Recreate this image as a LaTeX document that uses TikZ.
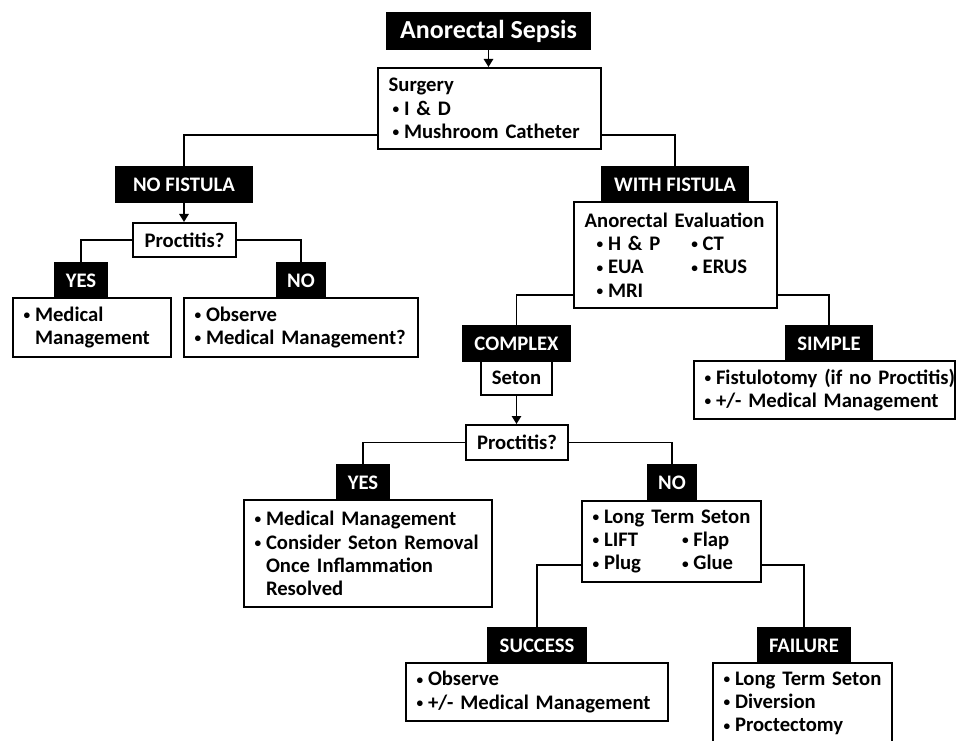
\documentclass[tikz,border=0pt]{standalone}
\usepackage{fontspec}
\setmainfont{Carlito}
\usetikzlibrary{arrows.meta,calc}
\newcommand{\myb}{\makebox[8.5pt][l]{\raisebox{1.3pt}{\fontsize{10}{10}\selectfont •}}}
\newcommand{\myh}{\hspace*{8.5pt}}
\begin{document}
\begin{tikzpicture}[x=0.75pt,y=-0.75pt,
 every node/.style={font=\fontsize{15.5}{17.5}\selectfont\bfseries, inner sep=0pt},
 wh/.style 2 args={minimum width=#1*0.75pt, minimum height=#2*0.75pt},
 lab/.style={fill=black,text=white,draw=black,line width=1pt},
 qbox/.style={draw=black,fill=white,line width=1.5pt},
 cbox/.style={draw=black,fill=white,line width=1.5pt,align=left,inner xsep=8pt},
 conn/.style={line width=1.3pt},
 arr/.style={line width=1.3pt,-{Triangle[width=7pt,length=6pt]}}
]
\clip (0,0) rectangle (956,741);
\fill[white] (0,0) rectangle (956,741);

% top
\node[lab, wh={203}{36}, font=\fontsize{19.5}{21}\selectfont\bfseries] (title) at (488.5,31) {Anorectal Sepsis};
\node[cbox, wh={223}{81}, text width=151.25pt] (surgery) at (489.5,108.5)
 {\mbox{Surgery}\\\mbox{\hspace*{3pt}\myb I \& D}\\\mbox{\hspace*{3pt}\myb Mushroom Catheter}};

% no fistula branch
\node[lab, wh={136}{35}] (nofist) at (184,184.5) {NO FISTULA};
\node[qbox, wh={103}{34}] (proct1) at (184.5,240) {Proctitis?};
\node[cbox, wh={158}{59}, text width=102.5pt] (mm1) at (92,327.5)
 {\mbox{\myb Medical}\\\mbox{\myh Management}};
\node[cbox, wh={234}{59}, text width=159.5pt] (obs1) at (301,327.5)
 {\mbox{\myb Observe}\\\mbox{\myb Medical Management?}};
\node[lab, wh={53}{35}] (yes1) at (81,280.5) {YES};
\node[lab, wh={49}{35}] (no1) at (301,280.5) {NO};

% with fistula branch
\node[cbox, wh={203}{106}, text width=136.25pt] (eval) at (675.5,255)
 {\mbox{Anorectal Evaluation}\\
  \mbox{\hspace*{9pt}\makebox[71pt][l]{\myb H \& P}\myb CT}\\
  \mbox{\hspace*{9pt}\makebox[71pt][l]{\myb EUA}\myb ERUS}\\
  \mbox{\hspace*{9pt}\myb MRI}};
\node[lab, wh={146}{35}] (withfist) at (675,184.5) {WITH FISTULA};

\node[cbox, wh={261}{58}, text width=179.75pt] (simplebox) at (824.5,390)
 {\mbox{\myb Fistulotomy (if no Proctitis)}\\\mbox{\myb +/- Medical Management}};
\node[lab, wh={86}{35}] (simple) at (829,343.5) {SIMPLE};

\node[qbox, wh={71}{34}] (seton) at (516.5,378) {Seton};
\node[lab, wh={107}{35}] (complex) at (516.5,343.5) {COMPLEX};

\node[qbox, wh={102}{35}] (proct2) at (517,442.5) {Proctitis?};

\node[cbox, wh={248}{107}, text width=170pt] (yesbox2) at (368,553.5)
 {\mbox{\myb Medical Management}\\\mbox{\myb Consider Seton Removal}\\\mbox{\myh Once Inflammation}\\\mbox{\myh Resolved}};
\node[lab, wh={52}{35}] (yes2) at (363,482.5) {YES};

\node[cbox, wh={179}{81}, text width=118.25pt] (nobox2) at (671.5,541.5)
 {\mbox{\myb Long Term Seton}\\
  \mbox{\makebox[67pt][l]{\myb LIFT}\myb Flap}\\
  \mbox{\makebox[67pt][l]{\myb Plug}\myb Glue}};
\node[lab, wh={49}{35}] (no2) at (672,482.5) {NO};

\node[cbox, wh={262}{58}, text width=180.5pt] (successbox) at (537,692)
 {\mbox{\myb Observe}\\\mbox{\myb +/- Medical Management}};
\node[lab, wh={98}{35}] (success) at (537,645.5) {SUCCESS};

\node[cbox, wh={179}{82}, text width=118.25pt] (failbox) at (802.5,703.5)
 {\mbox{\myb Long Term Seton}\\\mbox{\myb Diversion}\\\mbox{\myb Proctectomy}};
\node[lab, wh={93}{35}] (failure) at (804,645.5) {FAILURE};

% connectors
\draw[arr] (title.south) -- (title.south |- surgery.north);
\draw[conn] ($(surgery.south west)+(0,-15)$) -| (nofist.north);
\draw[conn] ($(surgery.south east)+(0,-15)$) -| (withfist.north);
\draw[arr] (nofist.south) -- (nofist.south |- proct1.north);
\draw[conn] (proct1.west) -| (yes1.north);
\draw[conn] (proct1.east) -| (no1.north);
\draw[conn] ($(eval.south west)+(0,-14)$) -| (complex.north);
\draw[conn] ($(eval.south east)+(0,-14)$) -| (simple.north);
\draw[arr] (seton.south) -- (seton.south |- proct2.north);
\draw[conn] (proct2.west) -| (yes2.north);
\draw[conn] (proct2.east) -| (no2.north);
\draw[conn] ($(nobox2.south west)+(0,-18)$) -| (success.north);
\draw[conn] ($(nobox2.south east)+(0,-18)$) -| (failure.north);
\end{tikzpicture}
\end{document}
